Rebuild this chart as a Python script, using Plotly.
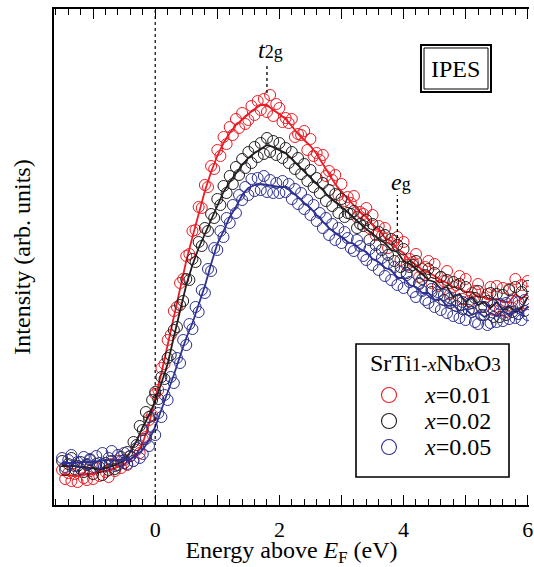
import numpy as np
import plotly.graph_objects as go

# IPES spectra of SrTi1-xNbxO3, intensity in arbitrary units
energy_fit = np.round(np.arange(-1.5, 6.0001, 0.1), 2)
energy_obs = np.round(np.arange(-1.5, 6.0001, 0.05), 2)

fit_001 = [30, 30, 29, 30, 31, 31, 33, 34, 36, 38,
           41, 45, 51, 62, 81, 106, 132, 160, 189, 217,
           244, 268, 292, 314, 333, 349, 362, 372, 380, 386,
           391, 396, 400, 400, 395, 391, 386, 379, 371, 365,
           359, 351, 341, 331, 321, 313, 306, 300, 293, 288,
           280, 276, 267, 264, 256, 252, 245, 240, 235, 233,
           229, 225, 222, 218, 217, 213, 213, 208, 208, 205,
           206, 203, 203, 211, 206, 212]
fit_002 = [39, 39, 39, 38, 37, 37, 36, 37, 39, 41,
           45, 53, 64, 78, 90, 104, 122, 141, 168, 195,
           220, 240, 257, 271, 285, 300, 313, 323, 332, 340,
           347, 352, 356, 360, 358, 355, 352, 346, 340, 334,
           328, 321, 315, 308, 303, 298, 293, 287, 281, 276,
           271, 266, 262, 255, 253, 244, 241, 236, 231, 225,
           223, 216, 218, 208, 211, 203, 208, 200, 203, 197,
           203, 195, 199, 193, 197, 208]
fit_005 = [42, 42, 42, 43, 43, 43, 44, 45, 45, 45,
           45, 46, 50, 55, 65, 78, 95, 112, 130, 149,
           167, 182, 200, 219, 241, 261, 274, 288, 298, 310,
           317, 320, 321, 320, 319, 318, 318, 313, 308, 302,
           297, 290, 283, 277, 272, 268, 263, 261, 256, 253,
           246, 243, 237, 235, 227, 227, 220, 218, 212, 212,
           205, 206, 199, 200, 194, 196, 190, 193, 188, 192,
           189, 194, 190, 196, 192, 198]

obs_001 = [35, 26, 32, 24, 31, 23, 36, 27, 25, 34,
           26, 37, 29, 39, 33, 28, 41, 34, 44, 37,
           45, 40, 49, 44, 55, 52, 66, 68, 85, 90,
           111, 115, 137, 141, 165, 170, 194, 198, 222, 226,
           249, 251, 274, 275, 298, 297, 320, 318, 339, 336,
           355, 349, 368, 361, 378, 370, 386, 377, 392, 381,
           385, 399, 390, 404, 395, 406, 393, 410, 389, 401,
           397, 383, 387, 382, 386, 368, 371, 370, 374, 355,
           366, 349, 352, 345, 350, 329, 334, 325, 330, 310,
           321, 304, 308, 302, 309, 288, 293, 291, 297, 277,
           290, 270, 279, 269, 277, 257, 262, 264, 268, 245,
           263, 240, 246, 243, 251, 228, 236, 238, 244, 222,
           241, 219, 228, 224, 234, 211, 218, 220, 229, 206,
           226, 204, 212, 214, 221, 198, 207, 211, 218, 195,
           219, 195, 217, 193, 216, 197, 226, 199, 220, 202,
           224]
obs_002 = [44, 35, 41, 47, 36, 39, 43, 33, 40, 45,
           31, 41, 38, 30, 42, 35, 44, 36, 40, 48,
           42, 53, 49, 63, 60, 79, 75, 93, 88, 105,
           113, 106, 128, 126, 147, 150, 175, 178, 200, 204,
           226, 225, 246, 243, 263, 259, 277, 274, 291, 287,
           306, 300, 319, 312, 329, 321, 338, 330, 346, 337,
           353, 342, 358, 348, 362, 351, 367, 353, 364, 350,
           362, 347, 357, 342, 353, 336, 347, 331, 341, 324,
           335, 318, 327, 312, 322, 304, 315, 299, 311, 292,
           306, 288, 292, 291, 294, 277, 281, 279, 285, 265,
           281, 260, 273, 255, 270, 250, 266, 244, 260, 238,
           256, 232, 238, 240, 244, 221, 226, 230, 236, 213,
           232, 210, 228, 205, 225, 202, 223, 199, 221, 196,
           218, 195, 202, 207, 214, 190, 198, 204, 212, 188,
           211, 188, 210, 190, 215, 193, 218, 191, 213, 194,
           219]
obs_005 = [47, 38, 45, 50, 39, 43, 36, 48, 41, 46,
           38, 49, 42, 52, 40, 47, 54, 39, 50, 44,
           52, 41, 49, 44, 57, 47, 51, 66, 59, 78,
           70, 92, 88, 110, 105, 128, 122, 147, 142, 165,
           160, 181, 176, 198, 193, 215, 212, 236, 234, 257,
           255, 274, 268, 287, 282, 300, 292, 310, 305, 318,
           310, 326, 314, 327, 315, 329, 313, 325, 312, 322,
           312, 324, 313, 321, 306, 316, 301, 312, 296, 305,
           290, 300, 284, 292, 277, 287, 270, 281, 265, 277,
           262, 273, 267, 257, 254, 265, 259, 249, 245, 256,
           240, 251, 235, 247, 229, 242, 225, 238, 220, 233,
           217, 230, 223, 213, 208, 222, 214, 205, 202, 216,
           198, 213, 195, 210, 192, 207, 189, 205, 187, 203,
           185, 201, 193, 183, 181, 198, 190, 180, 182, 200,
           183, 201, 184, 202, 186, 204, 187, 203, 185, 205,
           190]

names = ["<i>x</i>=0.01", "<i>x</i>=0.02", "<i>x</i>=0.05"]
colors = ["#ec1c24", "#231f20", "#2e3192"]
legend_title = ("SrTi<span style='font-size:19px'>1-<i>x</i></span>Nb"
                "<span style='font-size:19px'><i>x</i></span>O<span style='font-size:19px'>3</span>")

# peak markers: (energy, label, line bottom, line top)
t2g = (1.8, "<i>t</i><span style='font-size:18px'>2g</span>", 412, 442)
eg = (3.9, "<i>e</i><span style='font-size:18px'>g</span>", 267, 310)

FONT = "Liberation Serif, Times New Roman, serif"

fig = go.Figure()
for obs, fit, name, c in zip([obs_001, obs_002, obs_005], [fit_001, fit_002, fit_005], names, colors):
    fig.add_trace(go.Scatter(x=energy_obs, y=obs, mode="markers", name=name, showlegend=False,
                             marker=dict(symbol="circle-open", size=11, color=c, line=dict(width=1))))
    fig.add_trace(go.Scatter(x=energy_fit, y=fit, mode="lines", showlegend=False,
                             line=dict(color=c, width=1.8)))

# E_F line
fig.add_shape(type="line", x0=0, x1=0, y0=0, y1=1, xref="x", yref="paper",
              line=dict(color="black", width=1.2, dash="dot"))
for e, label, y0, y1 in [t2g, eg]:
    fig.add_shape(type="line", x0=e, x1=e, y0=y0, y1=y1,
                  line=dict(color="black", width=1.3, dash="dot"))
    fig.add_annotation(x=e, y=y1, text=label, showarrow=False, xanchor="center", yanchor="bottom",
                       xshift=4, yshift=-2, font=dict(size=24, family=FONT, color="black"))

# IPES double box
fig.add_shape(type="rect", xref="paper", yref="paper", x0=0.7726, x1=0.92, y0=0.8327, y1=0.9274,
              line=dict(color="black", width=2))
fig.add_shape(type="rect", xref="paper", yref="paper", x0=0.779, x1=0.9137, y0=0.8387, y1=0.9214,
              line=dict(color="black", width=1))
fig.add_annotation(xref="paper", yref="paper", x=0.846, y=0.88, text="IPES", showarrow=False,
                   xanchor="center", yanchor="middle",
                   font=dict(size=24, family=FONT, color="black"))

# legend box, drawn by hand to get the spacing of the original
fig.add_shape(type="rect", xref="paper", yref="paper", x0=0.6358, x1=0.9579, y0=0.0565, y1=0.3246,
              line=dict(color="black", width=1.6), fillcolor="white", layer="above")
fig.add_annotation(xref="paper", yref="paper", x=0.8042, y=0.2863, text=legend_title, showarrow=False,
                   xanchor="center", yanchor="middle", font=dict(size=24, family=FONT, color="black"))
for i, (name, c) in enumerate(zip(names, colors)):
    yp = 0.2218 - i * 0.0525
    fig.add_shape(type="circle", xref="paper", yref="paper", xsizemode="pixel", ysizemode="pixel",
                  xanchor=0.7053, yanchor=yp, x0=-7.5, x1=7.5, y0=-7.5, y1=7.5,
                  line=dict(color=c, width=1.1), layer="above")
    fig.add_annotation(xref="paper", yref="paper", x=0.7747, y=yp, text=name, showarrow=False,
                       xanchor="left", yanchor="middle", font=dict(size=24, family=FONT, color="black"))

fig.update_layout(
    width=534, height=567,
    margin=dict(l=54, r=5, t=9, b=62),
    paper_bgcolor="white", plot_bgcolor="white",
    font=dict(family=FONT, size=22, color="black"),
    showlegend=False,
    xaxis=dict(
        range=[-1.63, 6.02], automargin=False,
        tickvals=[-1, 0, 1, 2, 3, 4, 5, 6],
        ticktext=["", "0", "", "2", "", "4", "", "6"],
        ticks="inside", ticklen=10, tickwidth=1.2, tickcolor="black",
        minor=dict(dtick=0.2, tick0=0, ticks="inside", ticklen=6, tickwidth=1.2, tickcolor="black"),
        showline=True, linecolor="black", linewidth=2, mirror="allticks",
        showgrid=False, zeroline=False,
        tickfont=dict(size=22, family=FONT), ticklabelstandoff=4,
        title=dict(text="Energy above <i>E</i><sub>F</sub> (eV)", font=dict(size=24, family=FONT), standoff=10),
    ),
    yaxis=dict(
        range=[0, 496], automargin=False,
        showticklabels=False, ticks="",
        showline=True, linecolor="black", linewidth=2,
        showgrid=False, zeroline=False,
        title=dict(text="Intensity (arb. units)", font=dict(size=24, family=FONT), standoff=15),
    ),
)

fig.write_html("out.html", config={"displayModeBar": False},
               post_script="document.body.style.margin='0';")
